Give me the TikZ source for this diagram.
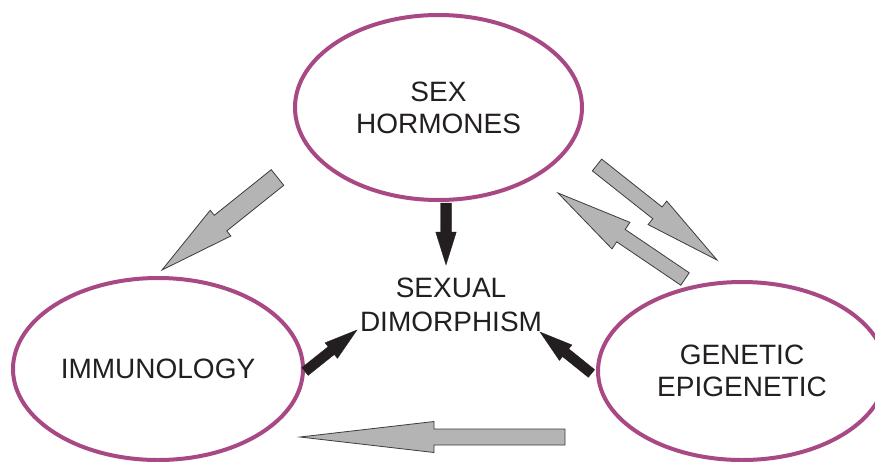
\documentclass[tikz,border=0pt]{standalone}
\usepackage{fontspec}
\setmainfont{Liberation Sans}
\usetikzlibrary{calc,shapes.geometric}
\definecolor{ringpurple}{RGB}{168,72,132}
\definecolor{arrowgray}{RGB}{180,180,180}
\definecolor{edgegray}{RGB}{60,60,60}
\definecolor{inkdark}{RGB}{35,31,32}
\newcommand\blockarrow[6]{% style, tail, tip, shaft half, head half, head length
  \coordinate (hb) at ($(#3)!#6!(#2)$);
  \filldraw[#1] ($(#2)!#4!90:(#3)$) -- ($(hb)!#4!90:(#3)$) -- ($(hb)!#5!90:(#3)$)
    -- (#3) -- ($(hb)!#5!-90:(#3)$) -- ($(hb)!#4!-90:(#3)$) -- ($(#2)!#4!-90:(#3)$) -- cycle;
}
\tikzset{
  ring/.style={ellipse, draw=ringpurple, line width=4pt, inner sep=0pt, align=center,
    text=inkdark, font=\fontsize{28}{32}\selectfont},
  label/.style={inner sep=0pt, align=center, text=inkdark, font=\fontsize{28}{34}\selectfont},
  grayarrow/.style={fill=arrowgray, draw=edgegray, line width=0.8pt, line join=miter},
  blackarrow/.style={fill=inkdark, draw=inkdark, line width=0.3pt}
}
\begin{document}
\begin{tikzpicture}[x=1pt,y=-1pt]
\clip (0,0) rectangle (875,461);
\fill[white] (0,0) rectangle (875,461);
\node[ring, minimum width=287pt, minimum height=185pt] (hormones) at (438.5,107.5) {SEX\\HORMONES};
\node[ring, minimum width=290pt, minimum height=182pt] (immuno) at (158,369) {IMMUNOLOGY};
\node[ring, minimum width=288pt, minimum height=178pt] (genetic) at (742,371) {GENETIC\\EPIGENETIC};
\node[label] (dimorph) at (451,305) {SEXUAL\\DIMORPHISM};
% gray arrows
\coordinate (a1t) at (277.5,177.5); \coordinate (a1h) at (162,270);
\coordinate (a2t) at (597,165);     \coordinate (a2h) at (717,260);
\coordinate (a3t) at (685,279);     \coordinate (a3h) at (558,193);
\coordinate (a4t) at (565,437);     \coordinate (a4h) at (300,437);
\blockarrow{grayarrow}{a1t}{a1h}{10pt}{16.5pt}{75pt}
\blockarrow{grayarrow}{a2t}{a2h}{7.5pt}{15pt}{76pt}
\blockarrow{grayarrow}{a3t}{a3h}{7.5pt}{16pt}{76pt}
\blockarrow{grayarrow}{a4t}{a4h}{8pt}{15.5pt}{134pt}
% black arrows
\coordinate (b1t) at (446,203);     \coordinate (b1h) at (446,265);
\coordinate (b2t) at (305,371.5);   \coordinate (b2h) at (357,330);
\coordinate (b3t) at (591.5,373.5); \coordinate (b3h) at (540,332);
\blockarrow{blackarrow}{b1t}{b1h}{5.5pt}{10.3pt}{33pt}
\blockarrow{blackarrow}{b2t}{b2h}{5pt}{10pt}{33pt}
\blockarrow{blackarrow}{b3t}{b3h}{5pt}{10pt}{33pt}
\end{tikzpicture}
\end{document}
